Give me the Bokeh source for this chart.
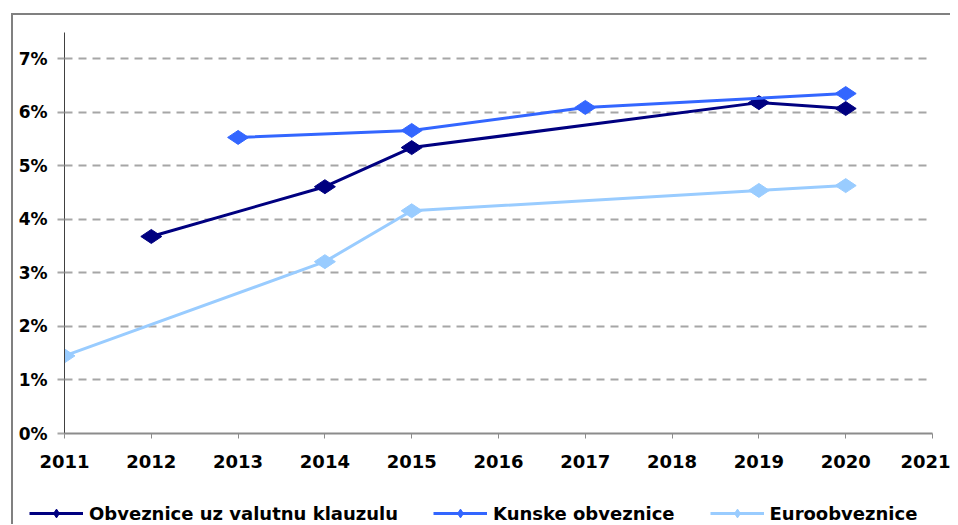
import math
from bokeh.plotting import figure
from bokeh.layouts import column
from bokeh.models import Legend, LegendItem, FixedTicker, NumeralTickFormatter, Range1d
from bokeh.embed import file_html
from bokeh.resources import INLINE

# ---- data ----
valutna_years = [2012, 2014, 2015, 2019, 2020]
valutna_vals = [3.68, 4.61, 5.34, 6.18, 6.07]

kunske_years = [2013, 2015, 2017, 2020]
kunske_vals = [5.53, 5.66, 6.09, 6.35]

euro_years = [2011, 2014, 2015, 2019, 2020]
euro_vals = [1.45, 3.21, 4.16, 4.54, 4.63]

series_names = ["Obveznice uz valutnu klauzulu", "Kunske obveznice", "Euroobveznice"]
series_colors = ["#000080", "#3366FF", "#99CCFF"]

x_ticks = list(range(2011, 2022))
y_ticks = [0, 1, 2, 3, 4, 5, 6, 7]

FONT = "DejaVu Sans"
FSIZE = "18px"

p = figure(width=937, height=487, output_backend="svg", toolbar_location=None,
           x_range=Range1d(2011, 2021), y_range=Range1d(0, 7.49),
           min_border_left=51, min_border_right=18, min_border_top=17, min_border_bottom=69)
p.outline_line_color = None
p.background_fill_color = "white"

# grid
p.xgrid.grid_line_color = None
p.ygrid.grid_line_color = "#A6A6A6"
p.ygrid.grid_line_width = 2
p.ygrid.grid_line_dash = "8 6"
p.ygrid.ticker = FixedTicker(ticks=y_ticks)

# axes
p.xaxis.ticker = FixedTicker(ticks=x_ticks)
p.xaxis.axis_line_color = "#8C8C8C"
p.xaxis.axis_line_width = 2
p.xaxis.major_tick_line_color = "#8C8C8C"
p.xaxis.major_tick_out = 5
p.xaxis.major_tick_in = 0
p.xaxis.minor_tick_line_color = None
p.xaxis.major_label_standoff = 16
p.xaxis.major_label_text_font = FONT
p.xaxis.major_label_text_font_style = "bold"
p.xaxis.major_label_text_font_size = FSIZE
p.xaxis.major_label_text_color = "#000000"

p.yaxis.ticker = FixedTicker(ticks=y_ticks)
p.yaxis.formatter = NumeralTickFormatter(format="0")
p.yaxis.major_label_overrides = {t: f"{t}%" for t in y_ticks}
p.yaxis.axis_line_color = "#404040"
p.yaxis.axis_line_width = 1
p.yaxis.major_tick_line_color = "#A6A6A6"
p.yaxis.major_tick_line_width = 2
p.yaxis.major_tick_out = 7
p.yaxis.major_tick_in = 0
p.yaxis.minor_tick_line_color = None
p.yaxis.major_label_standoff = 10
p.yaxis.major_label_text_font = FONT
p.yaxis.major_label_text_font_style = "bold"
p.yaxis.major_label_text_font_size = "17px"
p.yaxis.major_label_text_color = "#000000"

series = [(valutna_years, valutna_vals, series_names[0], series_colors[0]),
          (kunske_years, kunske_vals, series_names[1], series_colors[1]),
          (euro_years, euro_vals, series_names[2], series_colors[2])]

for xs, ys, name, col in series:
    p.line(xs, ys, line_color=col, line_width=3)
    p.scatter(xs, ys, marker="diamond", angle=math.pi / 2, size=21,
              fill_color=col, line_color=col)

# legend strip below the chart (its own plot, frame not aligned with the chart)
lg = figure(width=937, height=22, output_backend="svg", toolbar_location=None,
            x_range=Range1d(0, 1), y_range=Range1d(0, 1),
            x_axis_type=None, y_axis_type=None, min_border=0)
if "frame_align" in lg.properties():
    lg.frame_align = False
lg.outline_line_color = None
lg.xgrid.grid_line_color = None
lg.ygrid.grid_line_color = None

items = []
for xs, ys, name, col in series:
    # proxies carry the series data but lie outside this strip's ranges
    ln = lg.line(xs, ys, line_color=col, line_width=3)
    sc = lg.scatter(xs, ys, marker="diamond", size=12, fill_color=col, line_color=col)
    items.append(LegendItem(label=name, renderers=[ln, sc]))

legend = Legend(items=items, orientation="horizontal", location=(16, 0),
                glyph_width=54, glyph_height=22, spacing=35, label_standoff=6,
                padding=0, margin=0, border_line_color=None,
                label_text_font=FONT, label_text_font_style="bold",
                label_text_font_size=FSIZE, label_text_color="#000000",
                background_fill_alpha=0)
lg.add_layout(legend, "center")

layout = column(p, lg, spacing=0)
layout.margin = (13, 0, 0, 11)
layout.styles = {"border-top": "2px solid #808080", "border-left": "2px solid #808080"}

open("out.html", "w").write(file_html(layout, INLINE))
